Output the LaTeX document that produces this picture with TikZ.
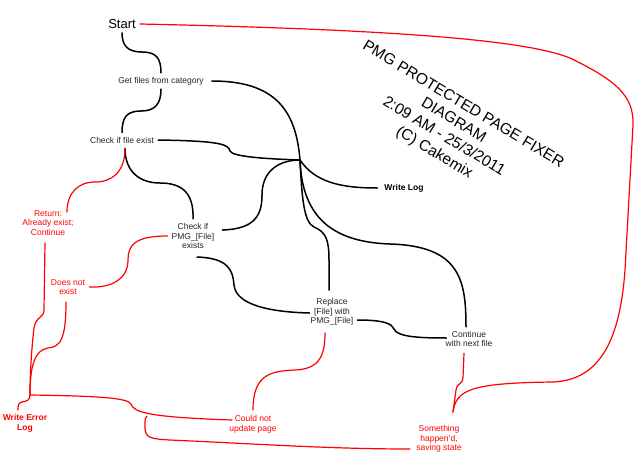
\documentclass[tikz,border=0pt]{standalone}
\usepackage{fontspec}
\setmainfont{Liberation Sans}
\usetikzlibrary{calc}
\tikzset{
  blk/.style={draw=black, line width=1.5pt, line cap=round},
  rd/.style={draw=red, line width=1.2pt, line cap=round},
  txt/.style={font=\fontsize{8.5}{9.7}\selectfont, align=center, inner sep=4pt, text=black!85},
  rtxt/.style={txt, text=red},
  btxt/.style={txt, font=\bfseries\fontsize{8.5}{9.7}\selectfont},
}
\begin{document}
\begin{tikzpicture}[x=1pt,y=-1pt]
\useasboundingbox[fill=white] (0,0) rectangle (640,471);

% nodes
\node[txt, font=\fontsize{13}{15}\selectfont, text=black] (start) at (122,24) {Start};
\node[txt] (getfiles) at (161,81) {Get files from category};
\node[txt] (checkexist) at (122,140) {Check if file exist};
\node[txt] (checkpmg) at (193,236) {Check if\\PMG\_[File]\\exists};
\node[rtxt] (ret) at (48,223) {Return:\\Already exist;\\Continue};
\node[rtxt] (dne) at (68,287) {Does not\\exist};
\node[txt] (replace) at (332,312) {Replace\\{[File]} with\\PMG\_[File]};
\node[txt] (cont) at (469,339) {Continue\\with next file};
\node[btxt, text=black] (writelog) at (404,188) {Write Log};
\node[btxt, text=red] (wel) at (25,423) {Write Error\\Log};
\node[rtxt] (cnu) at (253,424) {Could not\\update page};
\node[rtxt] (sth) at (439,439) {Something\\happen'd,\\saving state};
\node[align=center, rotate=-31, font=\fontsize{15.5}{18.7}\selectfont, text=black, inner sep=0pt] (title) at (448.5,129)
  {PMG PROTECTED PAGE FIXER\\DIAGRAM\\2:09 AM - 25/3/2011\\(C) Cakemix};

\coordinate (hub) at (300,160);
\coordinate (jn) at (30,395);
\coordinate (br) at (147,416);

% black connectors
\draw[blk] (start.south) .. controls (122,46) and (128,52) .. (142,52) .. controls (156,52) and (161,58) .. (getfiles.north);
\draw[blk] (getfiles.south) .. controls (161,104) and (155,111) .. (141,111) .. controls (127,111) and (122,117) .. (checkexist.north);
\draw[blk] ($(checkexist.south)+(3,1)$) .. controls (125,172) and (140,183) .. (160,183) .. controls (182,183) and (194,193) .. (checkpmg.north);
\draw[blk] (checkexist.east) .. controls (225,141) and (228,145) .. (230,151) .. controls (232,157) and (270,159) .. (hub);
\draw[blk] ($(getfiles.east)+(4,0)$) .. controls (275,81) and (296,110) .. (hub);
\draw[blk] ($(checkpmg.east)+(4,-6)$) .. controls (255,229) and (262,215) .. (262,195) .. controls (262,170) and (280,160) .. (hub);
\draw[blk] (hub) .. controls (315,182) and (340,188) .. ($(writelog.west)+(-3,0)$);
\draw[blk] (hub) .. controls (302,200) and (304,222) .. (314,227) .. controls (326,232) and (329,240) .. (329,260) -- ($(replace.north)+(-3,-4)$);
\draw[blk] (hub) .. controls (302,215) and (330,242) .. (390,244) .. controls (460,246) and (466,280) .. ($(cont.north)+(-3,0)$);
\draw[blk] ($(checkpmg.south)+(4,4)$) .. controls (228,258) and (233,270) .. (234,285) .. controls (236,305) and (270,312) .. ($(replace.west)+(3,1)$);
\draw[blk] ($(replace.east)+(0,8)$) .. controls (385,320) and (392,324) .. (394,329) .. controls (397,337) and (420,338) .. ($(cont.west)+(5,-1)$);

% red connectors
\draw[rd] ($(checkexist.south)+(3,1)$) .. controls (125,172) and (112,182) .. (95,182) .. controls (78,182) and (67,193) .. ($(ret.north)+(19,6)$);
\draw[rd] (checkpmg.west) .. controls (135,236) and (128,245) .. (128,260) .. controls (128,280) and (110,288) .. (dne.east);
\draw[rd] ($(ret.south)+(-3,3)$) -- (44,310) .. controls (44,318) and (36,316) .. (34,328) .. controls (32,345) and (30,370) .. (jn);
\draw[rd] ($(dne.south)+(-2,3)$) .. controls (66,340) and (60,347) .. (48,348) .. controls (35,350) and (30,365) .. (jn);
\draw[rd] (jn) .. controls (30,401) and (26,401) .. (22,402) .. controls (18,403) and (18,406) .. ($(wel.north)+(-7,0)$);
\draw[rd] (jn) .. controls (100,396) and (128,398) .. (131,404) .. controls (134,412) and (145,417) .. ($(cnu.center)+(-21,-4)$);
\draw[rd] (br) .. controls (145,418) .. (145,428) .. controls (145,438) and (152,439) .. (170,440) .. controls (260,444) and (330,449) .. ($(sth.west)+(-2,10)$);
\draw[rd] ($(cnu.north)+(0,-1)$) .. controls (253,375) and (270,371) .. (295,370) .. controls (320,369) and (325,355) .. ($(replace.south)+(-7,3)$);
\draw[rd] ($(cont.south)+(-5,2)$) -- (463,378) .. controls (463,384) and (457,383) .. (456,390) -- ($(sth.north)+(14,-9)$);
\draw[rd] ($(sth.north)+(14,-9)$) .. controls (456,390) and (470,383) .. (553,382) .. controls (600,380) and (620,340) .. (625,270) -- (633,125) .. controls (634,95) and (615,80) .. (570,58) .. controls (530,42) and (420,30) .. (start.east);
\end{tikzpicture}
\end{document}
